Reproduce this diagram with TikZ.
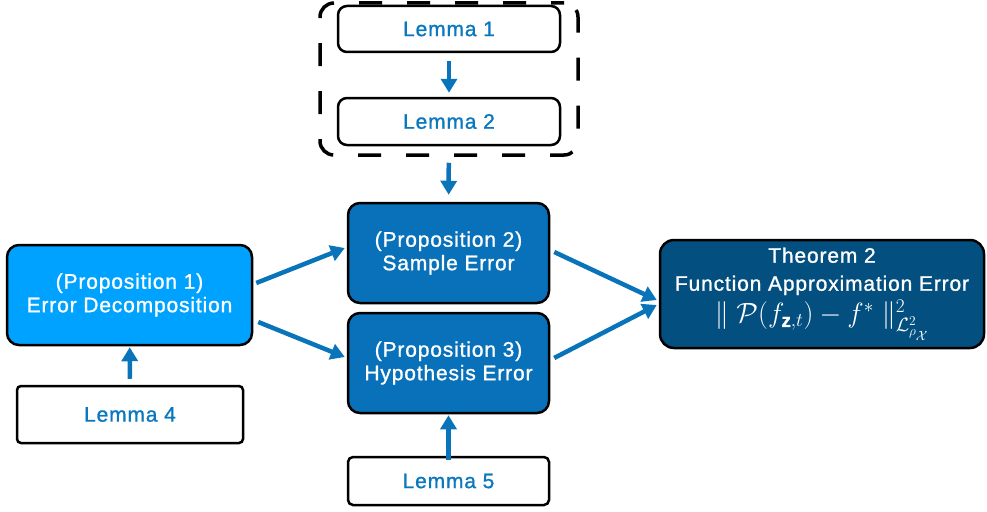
\documentclass[tikz,border=0pt]{standalone}
\usepackage{amsmath,amssymb}
\usepackage{graphicx}
\usepackage{fontspec}
\setmainfont{Liberation Sans}[LetterSpace=4, FakeBold=1.1]
\usetikzlibrary{arrows.meta}
\definecolor{lemtxt}{HTML}{0A78BE}
\definecolor{arr}{HTML}{0A74BA}
\definecolor{pone}{HTML}{00A2FF}
\definecolor{ptwo}{HTML}{0871B9}
\definecolor{thm}{HTML}{034F80}
\begin{document}
\begin{tikzpicture}[x=1pt,y=-1pt,
  lemmabox/.style={draw=black, line width=2.5pt, fill=white, rounded corners=9pt, text=lemtxt, font=\fontsize{21}{24}\selectfont, inner sep=0pt, align=center},
  propbox/.style={draw=black, line width=2.5pt, rounded corners=12pt, text=white, font=\fontsize{21}{23.5}\selectfont, inner sep=0pt, align=center},
  conn/.style={draw=arr, line width=4.5pt, -{Triangle[length=14pt,width=16pt]}},
]
\useasboundingbox (0,0) rectangle (987,511);
\node[draw=black, line width=3.5pt, dash pattern=on 23pt off 25pt, dash phase=10pt, rounded corners=14pt, minimum width=258pt, minimum height=152pt, inner sep=0pt] (grp) at (449,79) {};
\node[lemmabox, minimum width=222pt, minimum height=46pt] (l1) at (449,29) {Lemma 1};
\node[lemmabox, minimum width=222pt, minimum height=47pt] (l2) at (449,121.5) {Lemma 2};
\node[propbox, fill=ptwo, minimum width=201pt, minimum height=100pt] (p2) at (448.5,253) {(Proposition 2)\\Sample Error};
\node[propbox, fill=ptwo, minimum width=201pt, minimum height=100pt] (p3) at (448.5,363) {(Proposition 3)\\Hypothesis Error};
\node[lemmabox, rounded corners=5pt, minimum width=201pt, minimum height=48pt] (l5) at (448.5,481) {Lemma 5};
\node[propbox, fill=pone, minimum width=245pt, minimum height=100pt] (p1) at (129.5,295) {(Proposition 1)\\Error Decomposition};
\node[lemmabox, rounded corners=4pt, minimum width=226pt, minimum height=57pt] (l4) at (130,414.5) {Lemma 4};
\node[propbox, fill=thm, rounded corners=14pt, minimum width=324pt, minimum height=108pt, font=\fontsize{21}{28}\selectfont] (th) at (822,294) {Theorem 2\\Function Approximation Error\\[4pt]
  \fontsize{24}{26}\selectfont\scalebox{1.12}{$\|\;\mathcal{P}(f_{\mathbf{z},t})-f^{*}\;\|^{2}_{\mathcal{L}^{2}_{\rho_{\mathcal{X}}}}$}};
\draw[conn, shorten <=8pt, shorten >=4pt] (l1) -- (l2);
\draw[conn, shorten <=6pt, shorten >=7pt] (grp) -- (p2);
\draw[conn, shorten <=-4pt, shorten >=1pt] (l5) -- (p3);
\draw[conn, shorten <=6pt, shorten >=1pt] (l4) -- (p1);
\draw[conn] ([xshift=3pt,yshift=12pt]p1.east) -- ([xshift=-2pt,yshift=5pt]p2.west);
\draw[conn] ([xshift=5pt,yshift=-27pt]p1.east) -- ([xshift=-2pt,yshift=6pt]p3.west);
\draw[conn] ([xshift=4pt,yshift=1pt]p2.east) -- ([xshift=-2pt,yshift=-6pt]th.west);
\draw[conn] ([xshift=4pt,yshift=5pt]p3.east) -- ([xshift=-2pt,yshift=-11pt]th.west);
\end{tikzpicture}
\end{document}
